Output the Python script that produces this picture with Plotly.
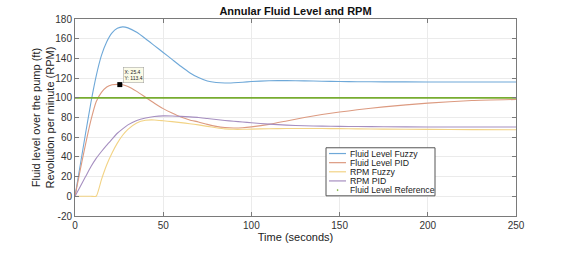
import plotly.graph_objects as go

time_s = [0, 3, 6, 9, 12, 15, 18, 21, 24, 27, 30, 35, 40, 45, 50, 55, 60, 65, 70, 75,
          80, 85, 90, 95, 100, 110, 120, 130, 140, 150, 160, 175, 200, 225, 250]

level_fuzzy = [0, 32, 64, 95, 122, 143, 157, 166, 170.5, 172, 171, 166.5, 160, 153, 146, 139, 132, 125.5, 120.5, 117,
               115.5, 115, 115.3, 115.8, 116.5, 117.3, 117.5, 117.2, 116.8, 116.5, 116.3, 116.2, 116.1, 116, 116]
level_pid = [0, 27, 53, 77, 96, 105.5, 111, 113.2, 113.6, 113.2, 111.5, 106.5, 100.5, 94.5, 89, 84.5, 80.5, 77.5, 75.5, 73,
             71, 69.8, 69.3, 69.6, 70.5, 73, 76.5, 80, 83, 85.5, 87.8, 90.8, 94.6, 97.2, 98.3]
rpm_fuzzy = [0, 0, 0, 0, 0, 17, 32, 44, 54, 62, 68, 74.5, 77.2, 77.5, 76.7, 75.8, 74.8, 73.7, 72.5, 71,
             69.6, 68.5, 68, 68, 68.2, 68.6, 68.8, 68.8, 68.8, 68.7, 68.5, 68.2, 67.9, 67.7, 67.5]
rpm_pid = [0, 10, 20, 30, 38.5, 45.5, 52, 58, 64, 68.5, 72.5, 77, 79.5, 81, 81.6, 81.5, 81.1, 80.6, 80, 79,
           78, 77, 76.2, 75.4, 74.7, 73.3, 72.3, 71.6, 71.2, 71, 70.8, 70.6, 70.4, 70.3, 70.3]
level_reference = [100] * len(time_s)

series_names = ["Fluid Level Fuzzy", "Fluid Level PID", "RPM Fuzzy", "RPM PID", "Fluid Level Reference"]
series_colors = ["#6ea8d8", "#dc9a80", "#f2d385", "#a68fc0", "#77ac30"]

datatip_x = [25.4]
datatip_y = [113.4]

x_ticks = [0, 50, 100, 150, 200, 250]
y_ticks = [-20, 0, 20, 40, 60, 80, 100, 120, 140, 160, 180]
y_tick_labels = ["-20", "0", "20", "40", "60", "80", "100", "120", "140", "160", "180"]

FONT = "Liberation Sans, Arial, Helvetica, sans-serif"

fig = go.Figure()
all_series = [level_fuzzy, level_pid, rpm_fuzzy, rpm_pid]
for name, vals, col in zip(series_names[:4], all_series, series_colors[:4]):
    fig.add_trace(go.Scatter(x=time_s, y=vals, mode="lines", name=name,
                             line=dict(color=col, width=1.1, shape="spline", smoothing=0.5),
                             showlegend=False, hoverinfo="skip"))
fig.add_trace(go.Scatter(x=time_s, y=level_reference, mode="lines", name=series_names[4],
                         line=dict(color=series_colors[4], width=1.8), showlegend=False))

fig.add_trace(go.Scatter(x=datatip_x, y=datatip_y, mode="markers",
                         marker=dict(symbol="square", size=5, color="black"), showlegend=False))
fig.add_annotation(x=datatip_x[0], y=datatip_y[0], xref="x", yref="y",
                   text=f"X: {datatip_x[0]}<br>Y: {datatip_y[0]}", showarrow=False,
                   xanchor="left", yanchor="bottom", xshift=3, yshift=2, align="left",
                   font=dict(family=FONT, size=5, color="#222"),
                   bgcolor="#fbfbe8", bordercolor="#999", borderwidth=0.5, borderpad=1)

# manual legend (px -> paper)
L, R, T, B = 75, 516, 19, 224
W, H = R - L, B - T
def px(xp):
    return (xp - L) / W
def py(yp):
    return (B - yp) / H

fig.add_shape(type="rect", xref="paper", yref="paper", x0=px(326), x1=px(435), y0=py(203), y1=py(153),
              line=dict(color="#555", width=1), fillcolor="white", layer="above")
rows = [159, 168.5, 178, 187.5, 197]
for i, (name, col) in enumerate(zip(series_names, series_colors)):
    yy = py(rows[i])
    if i < 4:
        fig.add_shape(type="line", xref="paper", yref="paper", x0=px(329), x1=px(346), y0=yy, y1=yy,
                      line=dict(color=col, width=1.2), layer="above")
    else:
        fig.add_shape(type="circle", xref="paper", yref="paper", x0=px(337), x1=px(338.2), y0=yy - 0.6 / H,
                      y1=yy + 0.6 / H, line=dict(color=col, width=0.5), fillcolor=col, layer="above")
    fig.add_annotation(x=px(348), y=yy, xref="paper", yref="paper", text=name, showarrow=False,
                       xanchor="left", yanchor="middle", font=dict(family=FONT, size=8.7, color="#222"))

# y-axis title (two lines, rotated)
fig.add_annotation(x=px(42), y=0.5, xref="paper", yref="paper",
                   text="Fluid level over the pump (ft)<br>Revolution per minute (RPM)",
                   textangle=-90, showarrow=False, xanchor="center", yanchor="middle",
                   font=dict(family=FONT, size=11, color="#222"))

axis_common = dict(showgrid=True, gridcolor="#ebebeb", gridwidth=1, zeroline=False,
                   showline=True, linecolor="#7a7a7a", linewidth=1, mirror="ticks",
                   ticks="inside", ticklen=4, tickcolor="#7a7a7a",
                   tickfont=dict(family=FONT, size=10, color="#333"))

fig.update_layout(
    width=571, height=253,
    margin=dict(l=L, r=571 - R, t=T, b=253 - B, pad=0),
    paper_bgcolor="white", plot_bgcolor="white",
    title=dict(text="<b>Annular Fluid Level and RPM</b>", x=(L + R) / 2 / 571, xanchor="center",
               y=1 - 11 / 253, yanchor="middle", font=dict(family=FONT, size=11, color="#111")),
    xaxis=dict(range=[0, 250], tickvals=x_ticks,
               title=dict(text="Time (seconds)", font=dict(family=FONT, size=11, color="#222"), standoff=2),
               **axis_common),
    yaxis=dict(range=[-20, 180], tickvals=y_ticks, ticktext=y_tick_labels, **axis_common),
    showlegend=False,
)

fig.write_html("out.html", config={"displayModeBar": False, "staticPlot": True})

# remove default page margin so the figure sits at the window origin
with open("out.html", "r", encoding="utf-8") as f:
    html = f.read()
html = html.replace("<head>", "<head><style>html,body{margin:0;padding:0;overflow:hidden;}</style>", 1)
with open("out.html", "w", encoding="utf-8") as f:
    f.write(html)
